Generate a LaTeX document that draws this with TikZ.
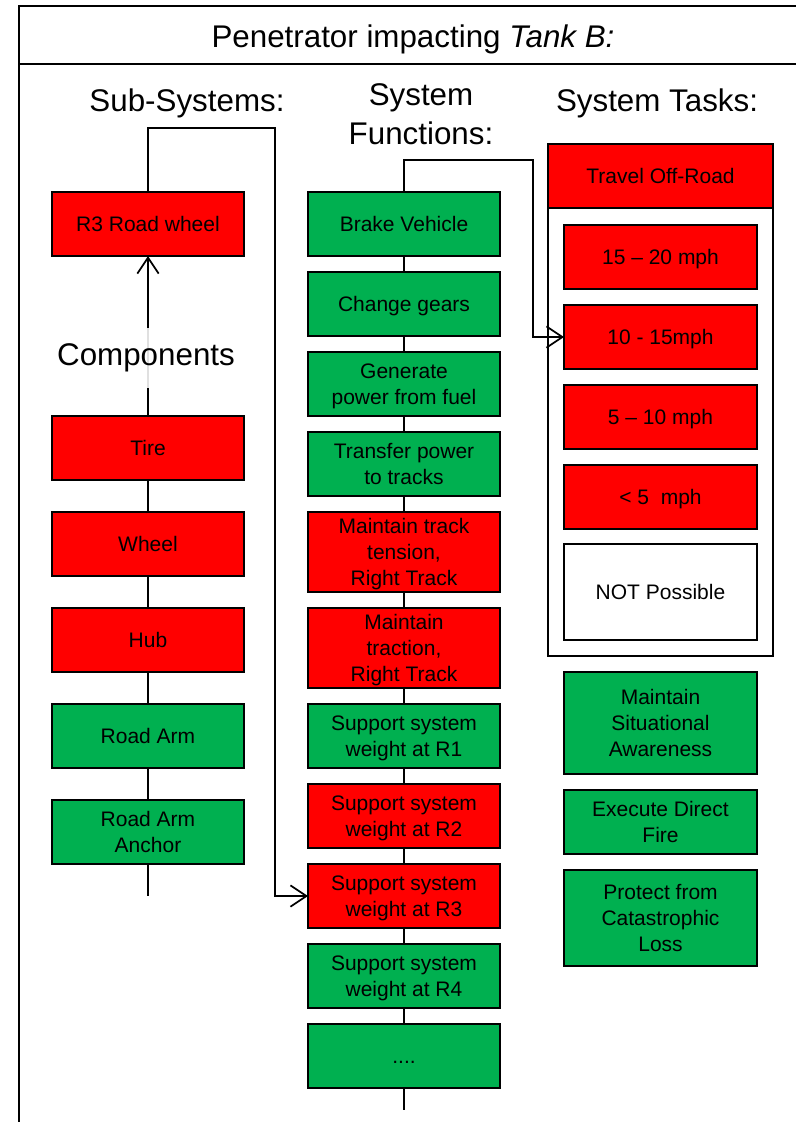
\documentclass[tikz,border=0pt]{standalone}
\usepackage{fontspec}
\setmainfont{Liberation Sans}
\usetikzlibrary{arrows.meta}
\definecolor{hitred}{HTML}{FF0000}
\definecolor{okgreen}{HTML}{00B050}
% invisible rule (15.3pt high, 4pt deep) that centres capital letters in a box
\newcommand\boxstrut{\rule[-4pt]{0pt}{19.3pt}}
\begin{document}
\begin{tikzpicture}[x=0.75pt,y=-0.75pt,
  every node/.style={inner sep=0pt, outer sep=0pt},
  blk/.style={draw=black, line width=1.5pt, align=center,
    minimum width=144pt, minimum height=48pt,
    font=\fontsize{15.75}{19.5}\selectfont,
    execute at begin node=\boxstrut, execute at end node=\boxstrut},
  redblk/.style={blk, fill=hitred},
  greenblk/.style={blk, fill=okgreen},
  whiteblk/.style={blk, fill=white},
  heading/.style={anchor=base, font=\fontsize{23.5}{29}\selectfont},
  chain/.style={line width=1.4pt},
  link/.style={line width=1.1pt, -{Straight Barb[length=12pt,width=16pt,line width=1.3pt]}},
  frameline/.style={line width=1.6pt}]
\useasboundingbox (0,0) rectangle (796,1122);

% outer frame and title bar
\draw[frameline] (796,6) -- (19,6) -- (19,1122);
\draw[frameline] (19,64) -- (796,64);
\node[heading] (title) at (413,47) {Penetrator impacting \textit{Tank B:}};

% column headings
\node[heading] (hsub) at (187,111) {Sub-Systems:};
\node[heading] (hfunA) at (421,105) {System};
\node[heading] (hfunB) at (421,144) {Functions:};
\node[heading] (htask) at (657,111) {System Tasks:};

% sub-systems and components
\node[redblk]   (rw)     at (148,224) {R3 Road wheel};
\node[redblk]   (tire)   at (148,448) {Tire};
\node[redblk]   (wheel)  at (148,544) {Wheel};
\node[redblk]   (hub)    at (148,640) {Hub};
\node[greenblk] (rarm)   at (148,736) {Road Arm};
\node[greenblk] (anchor) at (148,832) {\boxstrut Road Arm\\Anchor};
\coordinate (subend) at (148,896);

\draw[link] (tire.north) -- (rw.south);
\node[fill=white, fill opacity=0.88, text opacity=1, minimum height=45pt,
      minimum width=30pt, font=\fontsize{23.5}{29}\selectfont]
      (comp) at (146,358) {Components};
\draw[chain] (tire) -- (wheel) -- (hub) -- (rarm) -- (anchor) -- (subend);

% system functions
\node[greenblk] (brake)    at (404,224) {Brake Vehicle};
\node[greenblk] (gears)    at (404,304) {Change gears};
\node[greenblk] (genpow)   at (404,384) {\boxstrut Generate\\power from fuel};
\node[greenblk] (transfer) at (404,464) {\boxstrut Transfer power\\to tracks};
\node[redblk, minimum height=60pt] (tension)  at (404,552) {\boxstrut Maintain track\\tension,\\Right Track};
\node[redblk, minimum height=60pt] (traction) at (404,648) {\boxstrut Maintain\\traction,\\Right Track};
\node[greenblk] (sr1) at (404,736) {\boxstrut Support system\\weight at R1};
\node[redblk]   (sr2) at (404,816) {\boxstrut Support system\\weight at R2};
\node[redblk]   (sr3) at (404,896) {\boxstrut Support system\\weight at R3};
\node[greenblk] (sr4) at (404,976) {\boxstrut Support system\\weight at R4};
\node[greenblk] (more) at (404,1056) {....};
\coordinate (funend) at (404,1110);
\draw[chain] (brake) -- (gears) -- (genpow) -- (transfer) -- (tension)
  -- (traction) -- (sr1) -- (sr2) -- (sr3) -- (sr4) -- (more) -- (funend);

% system tasks
\node[draw=black, line width=1.5pt, fill=white, minimum width=168.75pt,
      minimum height=384pt] (tasks) at (660.5,400) {};
\node[redblk, minimum width=168.75pt] (travel) at (660.5,176) {Travel Off-Road};
\node[redblk, minimum width=144.75pt] (v15) at (660.5,257) {15 – 20 mph};
\node[redblk, minimum width=144.75pt] (v10) at (660.5,337) {10 - 15mph};
\node[redblk, minimum width=144.75pt] (v5)  at (660.5,417) {5 – 10 mph};
\node[redblk, minimum width=144.75pt] (vlt) at (660.5,497) {<~5 \ mph};
\node[whiteblk, minimum width=144.75pt, minimum height=72pt] (nop) at (660.5,592) {NOT Possible};
\node[greenblk, minimum width=144.75pt, minimum height=77pt] (aware) at (660.5,723) {\boxstrut Maintain\\Situational\\Awareness};
\node[greenblk, minimum width=144.75pt] (fire) at (660.5,822) {\boxstrut Execute Direct\\Fire};
\node[greenblk, minimum width=144.75pt, minimum height=72pt] (protect) at (660.5,918) {\boxstrut Protect from\\Catastrophic\\Loss};

% cross-column links
\coordinate (bendA) at (275,128);
\coordinate (bendB) at (533,160);
\draw[link] (rw.north) |- (bendA) |- (sr3.west);
\draw[link] (brake.north) |- (bendB) |- (v10.west);
\end{tikzpicture}
\end{document}
